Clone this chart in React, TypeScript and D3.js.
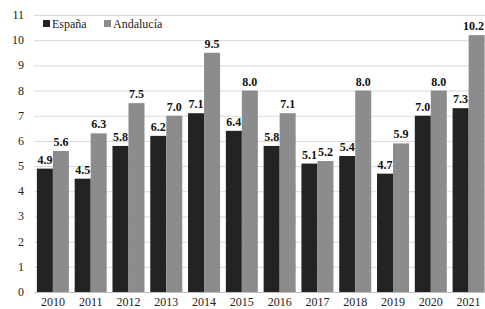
import { useEffect, useRef } from "react";
import * as d3 from "d3";

const years = ["2010", "2011", "2012", "2013", "2014", "2015", "2016", "2017", "2018", "2019", "2020", "2021"];
const seriesNames = ["España", "Andalucía"];
const espana = [4.9, 4.5, 5.8, 6.2, 7.1, 6.4, 5.8, 5.1, 5.4, 4.7, 7.0, 7.3];
const andalucia = [5.6, 6.3, 7.5, 7.0, 9.5, 8.0, 7.1, 5.2, 8.0, 5.9, 8.0, 10.2];
const yTicks = [0, 1, 2, 3, 4, 5, 6, 7, 8, 9, 10, 11];

const colors = ["#232323", "#8c8c8c"];
const font = "'Liberation Serif', 'Times New Roman', serif";

export default function App() {
  const ref = useRef<SVGSVGElement | null>(null);

  useEffect(() => {
    const width = 485;
    const height = 309;
    const svg = d3.select(ref.current);
    svg.selectAll("*").remove();
    svg.attr("width", width).attr("height", height);

    const left = 34;
    const right = 487.5;

    const x = d3.scaleBand().domain(years).range([left, right]).paddingInner(0.153).paddingOuter(0.0765);
    const xs = d3.scaleBand().domain(seriesNames).range([0, x.bandwidth()]);
    const y = d3.scaleLinear().domain([0, 11]).range([292, 15]);

    // gridlines
    svg
      .append("g")
      .selectAll("line")
      .data(yTicks.filter((t) => t > 0))
      .enter()
      .append("line")
      .attr("x1", left)
      .attr("x2", width)
      .attr("y1", (d) => y(d) + 0.5)
      .attr("y2", (d) => y(d) + 0.5)
      .attr("stroke", "#d9d9d9")
      .attr("stroke-width", 1);

    // y labels
    svg
      .append("g")
      .selectAll("text")
      .data(yTicks)
      .enter()
      .append("text")
      .attr("x", 24)
      .attr("y", (d) => y(d) + 4)
      .attr("text-anchor", "end")
      .attr("font-family", font)
      .attr("font-size", 12)
      .attr("fill", "#222")
      .text((d) => d);

    const rows = years.map((yr, i) => ({ year: yr, values: [espana[i], andalucia[i]] }));

    const groups = svg
      .append("g")
      .selectAll("g")
      .data(rows)
      .enter()
      .append("g")
      .attr("transform", (d) => `translate(${x(d.year)},0)`);

    groups
      .selectAll("rect")
      .data((d) => d.values.map((v, j) => ({ name: seriesNames[j], value: v, j })))
      .enter()
      .append("rect")
      .attr("x", (d) => xs(d.name)!)
      .attr("y", (d) => y(d.value))
      .attr("width", xs.bandwidth())
      .attr("height", (d) => y(0) - y(d.value))
      .attr("fill", (d) => colors[d.j]);

    groups
      .selectAll("text")
      .data((d) => d.values.map((v, j) => ({ year: d.year, name: seriesNames[j], value: v })))
      .enter()
      .append("text")
      .attr("x", (d) => xs(d.name)! + xs.bandwidth() / 2)
      .attr("y", (d) => y(d.value) - 5)
      .attr("text-anchor", "middle")
      .attr("font-family", font)
      .attr("font-size", 12)
      .attr("font-weight", "bold")
      .attr("fill", "#111")
      .text((d) => d.value.toFixed(1))
      .each(function (d) {
        // keep labels inside the picture's right edge
        const el = this as SVGTextElement;
        const w = el.getComputedTextLength();
        const cx = x(d.year)! + xs(d.name)! + xs.bandwidth() / 2;
        const over = cx + w / 2 - (width - 1);
        if (over > 0) d3.select(el).attr("x", xs(d.name)! + xs.bandwidth() / 2 - over);
      });

    // baseline
    svg
      .append("line")
      .attr("x1", left)
      .attr("x2", width)
      .attr("y1", y(0) + 0.5)
      .attr("y2", y(0) + 0.5)
      .attr("stroke", "#bfbfbf");

    // x labels
    svg
      .append("g")
      .selectAll("text")
      .data(years)
      .enter()
      .append("text")
      .attr("x", (d) => x(d)! + x.bandwidth() / 2)
      .attr("y", 305.5)
      .attr("text-anchor", "middle")
      .attr("font-family", font)
      .attr("font-size", 12)
      .attr("fill", "#222")
      .text((d) => d);

    // legend
    const legendX = [43, 104];
    const legend = svg
      .append("g")
      .selectAll("g")
      .data(seriesNames)
      .enter()
      .append("g")
      .attr("transform", (d, i) => `translate(${legendX[i]},20)`);
    legend
      .append("rect")
      .attr("width", 7)
      .attr("height", 7)
      .attr("fill", (d, i) => colors[i]);
    legend
      .append("text")
      .attr("x", 9)
      .attr("y", 7.5)
      .attr("font-family", font)
      .attr("font-size", 12)
      .attr("fill", "#222")
      .text((d) => d);
  }, []);

  return <svg ref={ref} style={{ position: "fixed", left: 0, top: 0, background: "#fff" }} />;
}
